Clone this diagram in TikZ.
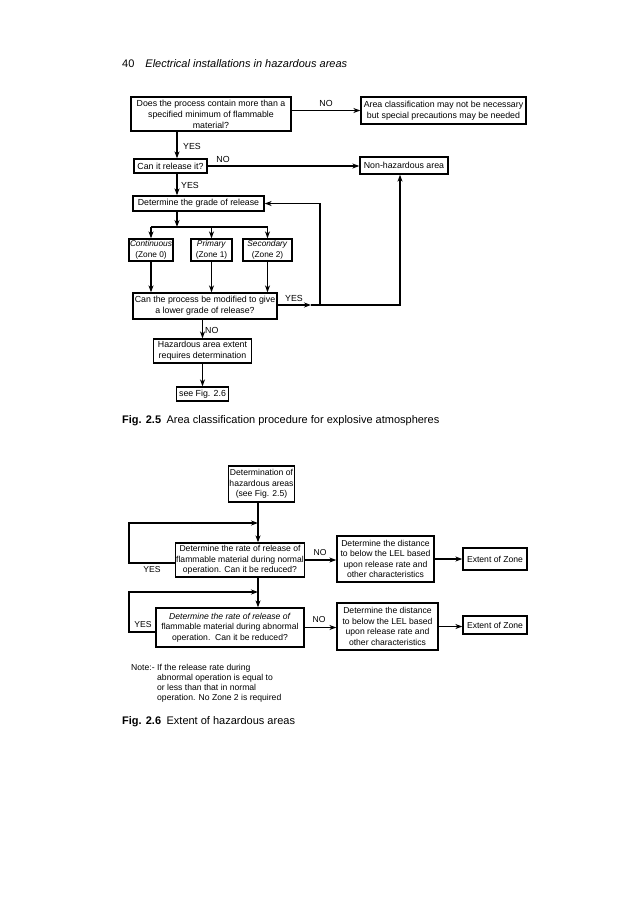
\documentclass[tikz,border=0pt]{standalone}
\usepackage{fontspec}
\setmainfont{Liberation Sans}
\usetikzlibrary{arrows.meta}
\newlength{\du}
\setlength{\du}{1pt}
\tikzset{
  flowbox/.style={draw, line width=1.3\du, inner sep=1\du, align=center, font=\fontsize{8.8}{11}\selectfont},
  zonebox/.style={flowbox, font=\fontsize{8.3}{10.5}\selectfont},
  extbox/.style={draw, line width=1.3\du, inner sep=1\du, align=center, font=\fontsize{8.6}{10.5}\selectfont},
  flow/.style={line width=1.2\du, -{Stealth[length=7pt,width=5pt]}},
  wire/.style={line width=1.2\du},
  tag/.style={inner sep=0pt, font=\fontsize{8.8}{10}\selectfont},
  smalltag/.style={inner sep=0pt, font=\fontsize{8.6}{10}\selectfont},
  headline/.style={anchor=west, inner sep=0pt, font=\fontsize{11}{13}\selectfont},
}

\begin{document}
\begin{tikzpicture}
\pgftransformxscale{1.000000}
\pgftransformyscale{-1.000000}
\definecolor{dialinecolor}{rgb}{1.000000, 1.000000, 1.000000}
\fill[dialinecolor] (0\du,0\du) rectangle (633\du,900\du);
% setfont left to latex
\node[headline] (pagehead) at (122\du,64\du){40\quad\textit{Electrical installations in hazardous areas}};
% Fig. 2.5
\node[flowbox, minimum width=160\du, minimum height=34\du] (procq) at (211\du,114\du){Does the process contain more than a\\specified minimum of flammable\\material?};
\node[flowbox, minimum width=165\du, minimum height=27\du] (noclass) at (443.5\du,110.5\du){Area classification may not be necessary\\but special precautions may be needed};
\node[flowbox, minimum width=73\du, minimum height=14\du] (releaseq) at (170.5\du,166\du){Can it release it?};
\node[flowbox, minimum width=88\du, minimum height=17\du] (nonhaz) at (404\du,165.5\du){Non-hazardous area};
\node[flowbox, minimum width=131\du, minimum height=15\du] (grade) at (198.5\du,203.5\du){Determine the grade of release};
\node[zonebox, minimum width=41\du, minimum height=22\du] (cont) at (151\du,250\du){\textit{Continuous}\\(Zone 0)};
\node[zonebox, minimum width=41\du, minimum height=22\du] (prim) at (211.5\du,250\du){\textit{Primary}\\(Zone 1)};
\node[zonebox, minimum width=49\du, minimum height=22\du] (sec) at (267.5\du,250\du){\textit{Secondary}\\(Zone 2)};
\node[flowbox, minimum width=144\du, minimum height=26\du] (modq) at (205\du,306\du){Can the process be modified to give\\a lower grade of release?};
\node[flowbox, minimum width=98\du, minimum height=24\du] (extent) at (202.5\du,351\du){Hazardous area extent\\requires determination};
\node[flowbox, minimum width=52\du, minimum height=14\du] (seefig) at (202.5\du,394\du){see Fig. 2.6};
\coordinate (spine) at (177\du,0\du);
\coordinate (split) at (177\du,227\du);
\coordinate (yestip) at (311\du,305\du);
\coordinate (backcol) at (320\du,305\du);
\coordinate (upcol) at (400\du,305\du);
\draw[flow] (procq.east |- noclass.west) -- (noclass.west);
\draw[flow] (procq.south -| spine) -- (releaseq.north -| spine);
\draw[flow] (releaseq.east) -- (releaseq.east -| nonhaz.west);
\draw[flow] (releaseq.south -| spine) -- (grade.north -| spine);
\draw[flow] (grade.south -| spine) -- (split);
\draw[wire] (cont.north |- split) -- (sec.north |- split);
\foreach \z in {cont,prim,sec}{
  \draw[flow] (\z.north |- split) -- (\z.north);
  \draw[flow] (\z.south) -- (\z.south |- modq.north);
}
\draw[flow] (modq.east |- yestip) -- (yestip);
\draw[flow] (yestip) -- (upcol) -- (upcol |- nonhaz.south);
\draw[flow] (backcol) |- (grade.east);
\draw[flow] (extent.north |- modq.south) -- (extent.north);
\draw[flow] (extent.south) -- (seefig.north);
\node[tag] (noa) at (326\du,103\du){NO};
\node[tag] (yesa) at (192\du,146\du){YES};
\node[tag] (nob) at (223\du,159\du){NO};
\node[tag] (yesb) at (190\du,185\du){YES};
\node[tag] (yesc) at (294\du,298\du){YES};
\node[tag, anchor=west] (noc) at (205\du,330\du){NO};
% setfont left to latex
\node[headline] (caption1) at (122\du,421\du){\textbf{Fig. 2.5}\enspace Area classification procedure for explosive atmospheres};
% Fig. 2.6
\node[extbox, minimum width=65\du, minimum height=36\du] (hazdet) at (261.5\du,484\du){Determination of\\hazardous areas\\(see Fig. 2.5)};
\node[extbox, minimum width=126\du, minimum height=34\du] (ratenorm) at (240\du,560\du){Determine the rate of release of\\flammable material during normal\\operation. Can it be reduced?};
\node[extbox, minimum width=97\du, minimum height=46\du] (distnorm) at (385.5\du,559\du){Determine the distance\\to below the LEL based\\upon release rate and\\other characteristics};
\node[extbox, minimum width=64\du, minimum height=22\du] (zonenorm) at (495\du,559\du){Extent of Zone};
\node[extbox, minimum width=148\du, minimum height=39\du] (rateabn) at (230\du,627.5\du){\textit{Determine the rate of release of}\\flammable material during abnormal\\operation.\ \ Can it be reduced?};
\node[extbox, minimum width=101\du, minimum height=47\du] (distabn) at (387.5\du,626.5\du){Determine the distance\\to below the LEL based\\upon release rate and\\other characteristics};
\node[extbox, minimum width=64\du, minimum height=18\du] (zoneabn) at (495\du,625\du){Extent of Zone};
\coordinate (trunk) at (258\du,0\du);
\coordinate (normret) at (129\du,563\du);
\coordinate (abnret) at (129\du,632\du);
\coordinate (loopa) at (258\du,523\du);
\coordinate (loopb) at (258\du,592\du);
\draw[flow] (hazdet.south -| trunk) -- (ratenorm.north -| trunk);
\draw[flow] (ratenorm.south -| trunk) -- (rateabn.north -| trunk);
\draw[flow] (ratenorm.west |- normret) -- (normret) |- (loopa);
\draw[flow] (rateabn.west |- abnret) -- (abnret) |- (loopb);
\draw[flow] (ratenorm.east) -- (ratenorm.east -| distnorm.west);
\draw[flow] (distnorm.east) -- (distnorm.east -| zonenorm.west);
\draw[flow] (rateabn.east) -- (rateabn.east -| distabn.west);
\draw[flow] (distabn.east) -- (distabn.east -| zoneabn.west);
\node[smalltag] (nod) at (320\du,553\du){NO};
\node[smalltag] (yesd) at (152\du,570\du){YES};
\node[smalltag] (yese) at (143\du,625\du){YES};
\node[smalltag] (noe) at (319\du,620\du){NO};
\node[smalltag, anchor=north west] (notehead) at (131\du,664\du){Note:-};
\node[smalltag, anchor=north west, align=left] (notebody) at (157\du,664\du){If the release rate during\\abnormal operation is equal to\\or less than that in normal\\operation. No Zone 2 is required};
% setfont left to latex
\node[headline] (caption2) at (122\du,722\du){\textbf{Fig. 2.6}\enspace Extent of hazardous areas};
\end{tikzpicture}
\end{document}
